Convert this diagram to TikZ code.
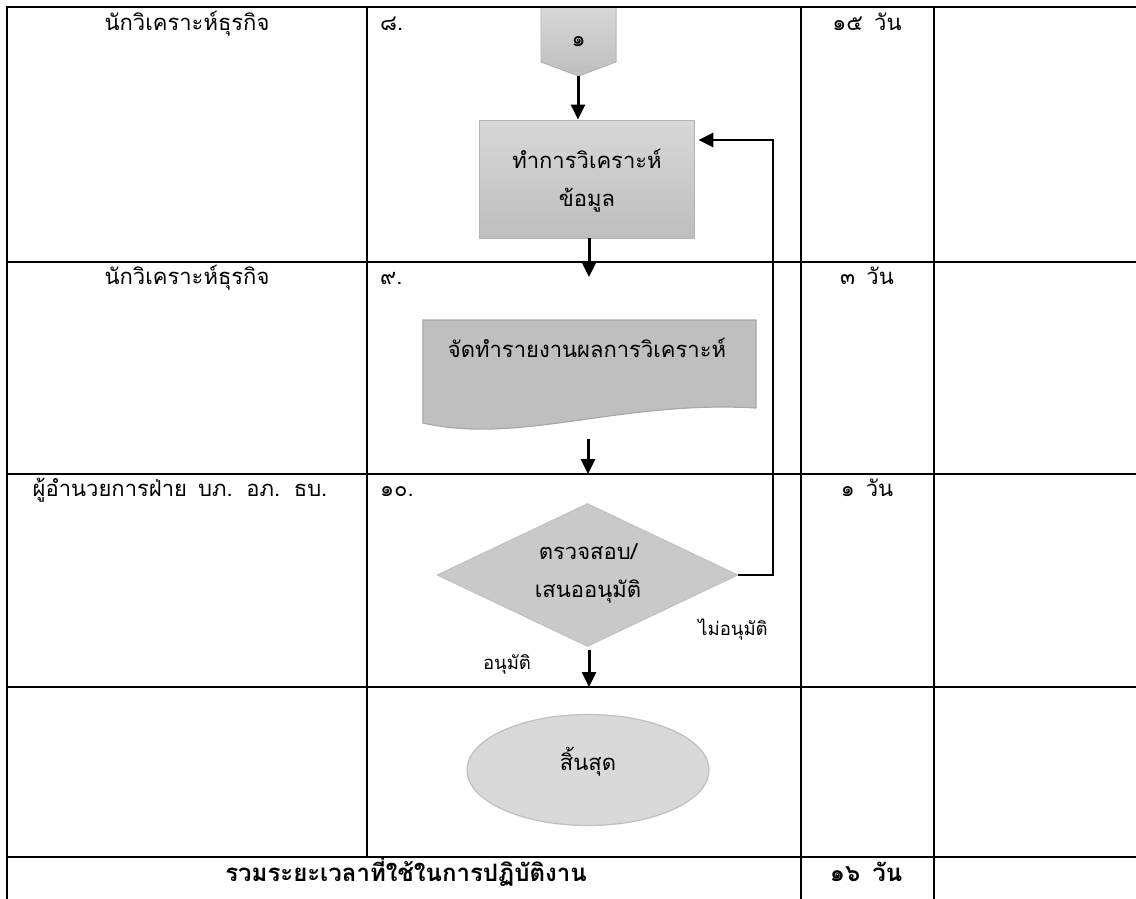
\documentclass[tikz,border=0pt]{standalone}
\usepackage{fontspec}
\newfontfamily\thaifont[Script=Thai,WordSpace=1.5]{Loma}
\usetikzlibrary{arrows.meta,shapes.geometric}
\definecolor{boxtop}{HTML}{D8D8D8}
\definecolor{boxbot}{HTML}{BEBEBE}
\definecolor{boxedge}{HTML}{B4B4B4}
\definecolor{docfill}{HTML}{BFBFBF}
\definecolor{docedge}{HTML}{A8A8A8}
\definecolor{diafill}{HTML}{C9C9C9}
\definecolor{diaedge}{HTML}{BDBDBD}
\definecolor{ellfill}{HTML}{D9D9D9}
\definecolor{elledge}{HTML}{BFBFBF}
\begin{document}
\begin{tikzpicture}[x=1pt,y=-1pt,
  tline/.style={line width=2.2pt,line cap=rect},
  conn/.style={line width=3pt,-{Triangle[width=14pt,length=15pt]}},
  loopline/.style={line width=2.6pt,-{Triangle[width=14pt,length=15pt]}},
  txt/.style={font=\thaifont\fontsize{22}{38}\selectfont,inner sep=0pt,align=center},
  boldtxt/.style={font=\thaifont\bfseries\fontsize{24}{30}\selectfont,inner sep=0pt},
  smalltxt/.style={font=\thaifont\fontsize{18.5}{22}\selectfont,inner sep=0pt},
  procbox/.style={rectangle,draw=boxedge,line width=0.8pt,top color=boxtop,bottom color=boxbot,inner sep=0pt},
  decision/.style={diamond,draw=diaedge,line width=0.8pt,fill=diafill,inner sep=0pt},
  terminal/.style={ellipse,draw=elledge,line width=1.2pt,fill=ellfill,inner sep=0pt}]
\useasboundingbox (0,0) rectangle (1136,899);
\fill[white] (0,0) rectangle (1136,899);

% ---- off-page connector ----
\fill[top color=boxtop,bottom color=boxbot] (541,7) -- (616,7) -- (616,62) -- (578.5,76) -- (541,62) -- cycle;
\draw[boxedge,line width=0.8pt] (541,8) -- (541,62) -- (578.5,76) -- (616,62) -- (616,8);
\node[txt,anchor=mid] (p) at (578.5,44) {๑};
\coordinate (ptip) at (578,76);

% ---- table grid ----
\foreach \yy in {7,262,474,687,857}{\draw[tline] (7,\yy) -- (1140,\yy);}
\draw[tline] (7,7) -- (7,903);
\draw[tline] (367,7) -- (367,857);
\draw[tline] (801,7) -- (801,903);
\draw[tline] (934,7) -- (934,903);

% ---- table texts ----
\node[txt,anchor=mid] (r1a) at (187,28) {นักวิเคราะห์ธุรกิจ};
\node[txt,anchor=mid west] (r1b) at (380,28) {๘.};
\node[txt,anchor=mid] (r1c) at (867,28) {๑๕ วัน};
\node[txt,anchor=mid] (r2a) at (187,282) {นักวิเคราะห์ธุรกิจ};
\node[txt,anchor=mid west] (r2b) at (380,282) {๙.};
\node[txt,anchor=mid] (r2c) at (867,282) {๓ วัน};
\node[txt,anchor=mid] (r3a) at (180,494) {ผู้อำนวยการฝ่าย บภ. อภ. ธบ.};
\node[txt,anchor=mid west] (r3b) at (380,494) {๑๐.};
\node[txt,anchor=mid] (r3c) at (867,494) {๑ วัน};
\node[boldtxt,anchor=mid] (tot) at (406,879) {รวมระยะเวลาที่ใช้ในการปฏิบัติงาน};
\node[boldtxt,anchor=mid] (totd) at (866,879) {๑๖ วัน};

% ---- process box ----
\node[procbox,minimum width=215pt,minimum height=118pt] (b) at (586.5,179) {};
\node[txt] (bt) at (587,181) {ทำการวิเคราะห์\\ข้อมูล};

% ---- document ----
\draw[fill=docfill,draw=docedge,line width=1.2pt] (423,320) -- (756,320) -- (756,408)
  .. controls (620,400) and (520,445) .. (423,423) -- cycle;
\node[txt,anchor=mid] (doc) at (587,355) {จัดทำรายงานผลการวิเคราะห์};

% ---- decision ----
\node[decision,minimum width=301pt,minimum height=143pt] (d) at (587.5,575) {};
\node[txt] (dt) at (588,573) {ตรวจสอบ/\\เสนออนุมัติ};
\node[smalltxt,anchor=mid] (no) at (733,633) {ไม่อนุมัติ};
\node[smalltxt,anchor=mid] (yes) at (507,667) {อนุมัติ};

% ---- terminal ----
\node[terminal,minimum width=242pt,minimum height=111pt] (e) at (588,770) {};
\node[txt,anchor=mid] (et) at (588,768) {สิ้นสุด};

% ---- connectors ----
\draw[conn] (ptip) -- (ptip |- b.north);
\coordinate (a1e) at (589,277);
\draw[conn] (a1e |- b.south) -- (a1e);
\coordinate (a2s) at (588,439);
\coordinate (a2e) at (588,474);
\draw[conn] (a2s) -- (a2e);
\coordinate (a3s) at (589,650);
\coordinate (a3e) at (589,687);
\draw[conn] (a3s) -- (a3e);
\coordinate (loopc) at (773,140);
\draw[loopline,shorten >=4pt] (d.east) -- (d.east -| loopc) -- (loopc) -- (loopc -| b.east);
\end{tikzpicture}
\end{document}
